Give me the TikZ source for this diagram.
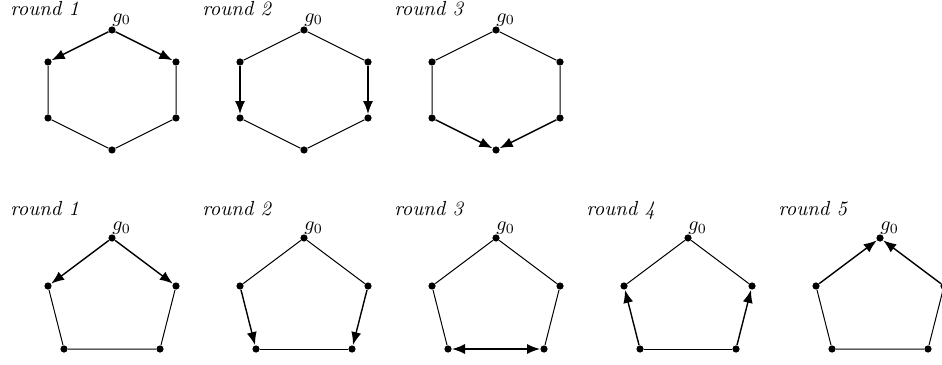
\documentclass[tikz,border=0pt]{standalone}
\usetikzlibrary{arrows.meta}
\begin{document}
\begin{tikzpicture}[x=0.5pt,y=-0.5pt,
  dot/.style={circle,fill=black,inner sep=0pt,minimum size=3.6pt},
  edge/.style={line width=0.5pt},
  arr/.style={line width=0.7pt,-{Latex[length=6.5pt,width=5pt]}},
  darr/.style={line width=0.7pt,{Latex[length=6.5pt,width=5pt]}-{Latex[length=6.5pt,width=5pt]}},
  roundlbl/.style={anchor=base west,inner sep=0pt,font=\fontsize{10.2}{12}\selectfont\itshape},
  glbl/.style={anchor=base west,inner sep=0pt,font=\fontsize{10.2}{12}\selectfont}]
\useasboundingbox (0,0) rectangle (942,364);
\clip (0,0) rectangle (942,364);
% hexagons
\foreach \k in {1,2,3}{
  \pgfmathsetmacro\cx{112+192*(\k-1)}
  \node[dot] (h\k t) at (\cx,30) {};
  \node[dot] (h\k ul) at (\cx-64,62) {};
  \node[dot] (h\k ur) at (\cx+64,62) {};
  \node[dot] (h\k ll) at (\cx-64,118) {};
  \node[dot] (h\k lr) at (\cx+64,118) {};
  \node[dot] (h\k b) at (\cx,150) {};
  \node[roundlbl] (hl\k) at (\cx-102,15) {round \k};
  \node[glbl] (hg\k) at (\cx,22) {$g_0$};
}
% pentagons
\foreach \k in {1,2,3,4,5}{
  \pgfmathsetmacro\cx{112+192*(\k-1)}
  \node[dot] (p\k t) at (\cx,238) {};
  \node[dot] (p\k ul) at (\cx-64,286) {};
  \node[dot] (p\k ur) at (\cx+64,286) {};
  \node[dot] (p\k bl) at (\cx-48,349) {};
  \node[dot] (p\k br) at (\cx+48,349) {};
  \node[roundlbl] (pl\k) at (\cx-102,215) {round \k};
  \node[glbl] (pg\k) at (\cx,230) {$g_0$};
}
% hexagon round 1
\draw[arr] (h1t) -- (h1ul);
\draw[arr] (h1t) -- (h1ur);
\draw[edge] (h1ur) -- (h1lr) -- (h1b) -- (h1ll) -- (h1ul);
% hexagon round 2
\draw[arr] (h2ul) -- (h2ll);
\draw[arr] (h2ur) -- (h2lr);
\draw[edge] (h2ul) -- (h2t) -- (h2ur);
\draw[edge] (h2ll) -- (h2b) -- (h2lr);
% hexagon round 3
\draw[arr] (h3ll) -- (h3b);
\draw[arr] (h3lr) -- (h3b);
\draw[edge] (h3ll) -- (h3ul) -- (h3t) -- (h3ur) -- (h3lr);
% pentagon round 1
\draw[arr] (p1t) -- (p1ul);
\draw[arr] (p1t) -- (p1ur);
\draw[edge] (p1ul) -- (p1bl) -- (p1br) -- (p1ur);
% pentagon round 2
\draw[arr] (p2ul) -- (p2bl);
\draw[arr] (p2ur) -- (p2br);
\draw[edge] (p2ul) -- (p2t) -- (p2ur);
\draw[edge] (p2bl) -- (p2br);
% pentagon round 3
\draw[darr] (p3bl) -- (p3br);
\draw[edge] (p3bl) -- (p3ul) -- (p3t) -- (p3ur) -- (p3br);
% pentagon round 4
\draw[arr] (p4bl) -- (p4ul);
\draw[arr] (p4br) -- (p4ur);
\draw[edge] (p4ul) -- (p4t) -- (p4ur);
\draw[edge] (p4bl) -- (p4br);
% pentagon round 5
\draw[arr] (p5ul) -- (p5t);
\draw[arr] (p5ur) -- (p5t);
\draw[edge] (p5ul) -- (p5bl) -- (p5br) -- (p5ur);
\end{tikzpicture}
\end{document}
